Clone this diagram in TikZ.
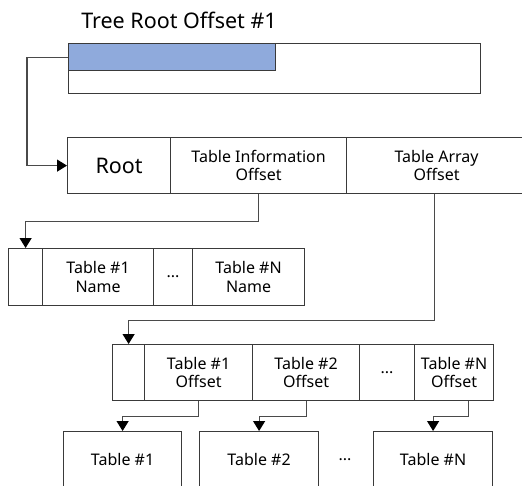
\documentclass[tikz,border=0pt]{standalone}
\usepackage{fontspec}
\setmainfont{Noto Sans}
\usetikzlibrary{arrows.meta}
\definecolor{edge}{HTML}{3A3A3A}
\definecolor{wire}{HTML}{4A4A4A}
\definecolor{slot}{HTML}{8FAADC}
\tikzset{
  cell/.style={draw=edge, line width=1.2pt, inner sep=0pt, anchor=north west,
    align=center, font=\fontsize{16}{18.5}\selectfont},
  big/.style={font=\fontsize{21.5}{24}\selectfont},
  wire/.style={draw=wire, line width=1.2pt,
    -{Triangle[width=12pt,length=10pt,color=black]}},
}
\begin{document}
\begin{tikzpicture}[x=1pt,y=-1pt]
\useasboundingbox (0,0) rectangle (522,485);

% header record with the highlighted offset field
\node[big] (title) at (179,20) {Tree Root Offset \#1};
\node[cell, minimum width=412, minimum height=50] (hdr) at (68,43) {};
\node[cell, fill=slot, minimum width=207, minimum height=27] (slot) at (68,43) {};

% root record
\node[cell, big, minimum width=103, minimum height=56] (r1) at (67,137) {Root};
\node[cell, minimum width=176, minimum height=56] (r2) at (170,137) {Table Information\\Offset};
\node[cell, minimum width=180, minimum height=56] (r3) at (346,137) {Table Array\\Offset};

% table information (names)
\node[cell, minimum width=34, minimum height=57] (n0) at (8,248) {};
\node[cell, minimum width=111, minimum height=57] (n1) at (42,248) {Table \#1\\Name};
\node[cell, minimum width=39, minimum height=57] (n2) at (153,248) {\textbf{...}};
\node[cell, minimum width=112, minimum height=57] (n3) at (192,248) {Table \#N\\Name};

% table array (offsets)
\node[cell, minimum width=32, minimum height=56] (o0) at (112,344) {};
\node[cell, minimum width=108, minimum height=56] (o1) at (144,344) {Table \#1\\Offset};
\node[cell, minimum width=107, minimum height=56] (o2) at (252,344) {Table \#2\\Offset};
\node[cell, minimum width=55, minimum height=56] (o3) at (359,344) {\textbf{...}};
\node[cell, minimum width=79, minimum height=56] (o4) at (414,344) {Table \#N\\Offset};

% tables
\node[cell, minimum width=118, minimum height=56] (t1) at (63,431) {Table \#1};
\node[cell, minimum width=119, minimum height=56] (t2) at (199,431) {Table \#2};
\node[cell, minimum width=119, minimum height=56] (tN) at (373,431) {Table \#N};
\node[font=\fontsize{16}{18}\selectfont] (tdots) at (345,460) {\textbf{...}};

% pointers
\draw[wire] (slot.west) -- ++(-41,0) |- (r1.west);
\draw[wire] (r2.south) -- ++(0,27) -| (n0.north);
\draw[wire] ([xshift=-2pt]r3.south) -- ++(0,126) -| (o0.north);
\draw[wire] (o1.south) -- ++(0,15) -| (t1.north);
\draw[wire] (o2.south) -- ++(0,15) -| (t2.north);
\draw[wire] ([xshift=14.5pt]o4.south) -- ++(0,15) -| (tN.north);
\end{tikzpicture}
\end{document}
